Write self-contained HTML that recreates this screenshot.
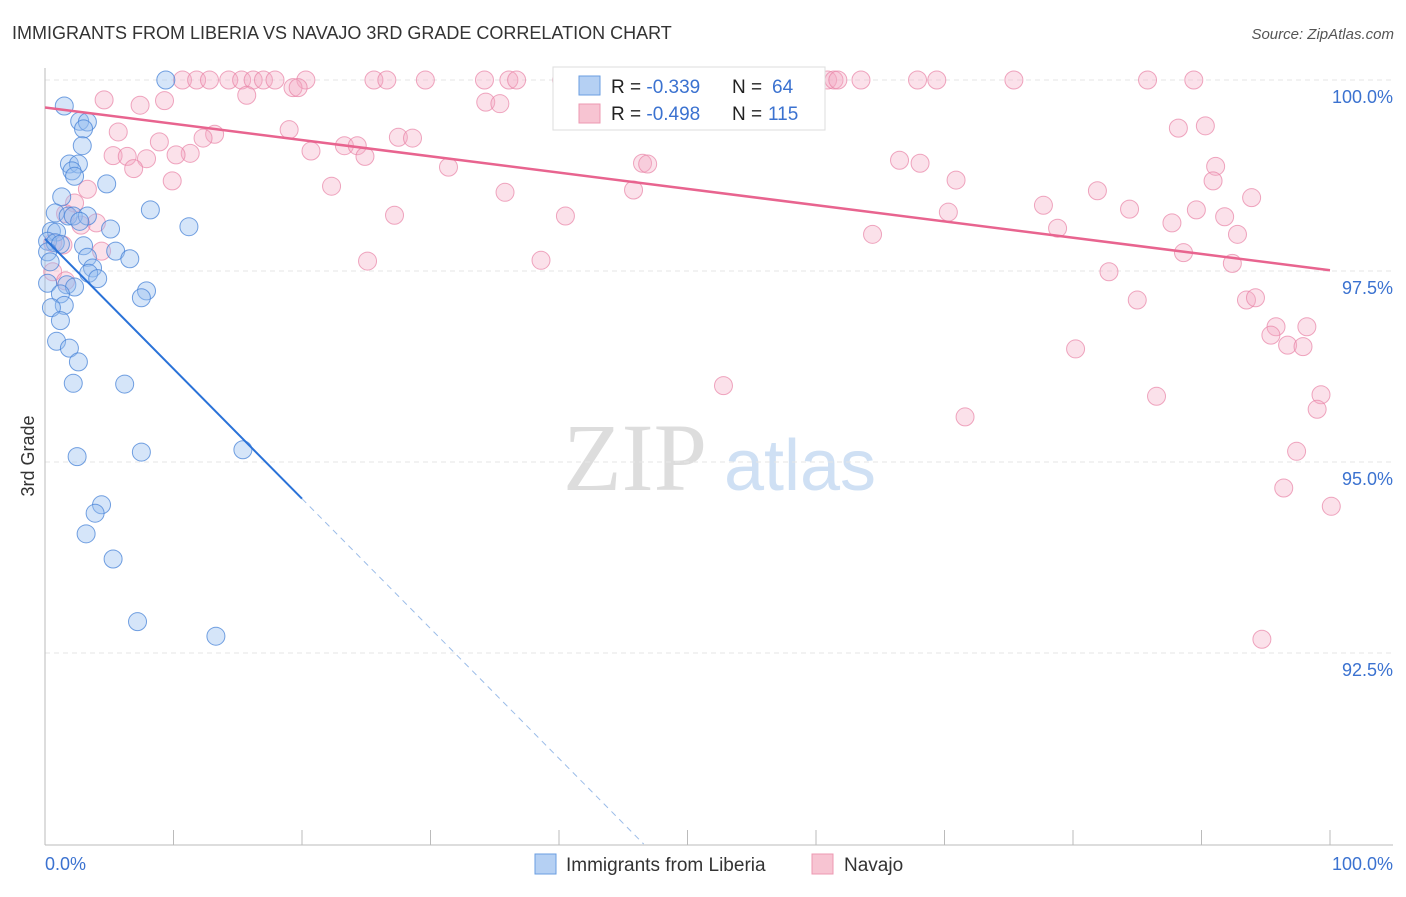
<!DOCTYPE html>
<html><head><meta charset="utf-8"><style>
body{margin:0;background:#fff;width:1406px;height:892px;overflow:hidden;font-family:"Liberation Sans",sans-serif}
</style></head><body>
<svg id="chart" width="1406" height="892" xmlns="http://www.w3.org/2000/svg">
<text x="12" y="39" font-size="18" fill="#333">IMMIGRANTS FROM LIBERIA VS NAVAJO 3RD GRADE CORRELATION CHART</text>
<text x="1394" y="39" font-size="15" fill="#555" text-anchor="end" font-style="italic">Source: ZipAtlas.com</text>
<text x="34" y="456" font-size="18" fill="#333" text-anchor="middle" transform="rotate(-90 34 456)">3rd Grade</text>
<g><text x="635" y="490" font-size="96" fill="#ddd" text-anchor="middle" font-family="Liberation Serif,serif">ZIP</text><text x="800" y="490" font-size="72" fill="#cfe0f4" text-anchor="middle">atlas</text></g>
<g id="grid"></g><g id="axes"></g><g id="pts"></g><g id="lines"></g>
<g>
<rect x="553" y="67" width="272" height="63" fill="#fff" stroke="#ddd"/>
<rect x="579" y="76" width="21" height="19" fill="#b5d0f3" stroke="#6a9ee0"/>
<rect x="579" y="104" width="21" height="19" fill="#f7c4d2" stroke="#ec98b2"/>
<text x="611" y="93" font-size="19" fill="#222">R = <tspan fill="#3b72d0">-0.339</tspan><tspan x="732">N = </tspan><tspan x="772" fill="#3b72d0">64</tspan></text>
<text x="611" y="120" font-size="19" fill="#222">R = <tspan fill="#3b72d0">-0.498</tspan><tspan x="732">N = </tspan><tspan x="768" fill="#3b72d0">115</tspan></text>
</g>
<g>
<rect x="535" y="854" width="21" height="20" fill="#b5d0f3" stroke="#6a9ee0"/>
<text x="566" y="871" font-size="19" fill="#333">Immigrants from Liberia</text>
<rect x="812" y="854" width="21" height="20" fill="#f7c4d2" stroke="#ec98b2"/>
<text x="844" y="871" font-size="19" fill="#333">Navajo</text>
</g>
</svg>
<script>
const blueX=[9.4,1.5,2.7,3.3,3.0,2.9,1.9,2.6,2.1,2.3,4.8,1.3,8.2,0.8,1.8,2.2,3.3,2.7,11.2,5.1,0.5,0.9,0.2,0.8,3.0,1.2,5.5,0.2,3.3,6.6,0.4,3.7,3.4,4.1,0.2,1.7,2.3,7.9,1.2,7.5,1.5,0.5,1.2,0.9,1.9,2.6,2.2,6.2,7.5,15.4,2.5,4.4,3.9,3.2,5.3,7.2,13.3];
const blueY=[100,99.66,99.46,99.45,99.36,99.14,98.90,98.90,98.81,98.74,98.64,98.47,98.30,98.26,98.22,98.22,98.22,98.15,98.08,98.05,98.02,98.01,97.89,97.87,97.83,97.85,97.76,97.75,97.68,97.66,97.62,97.54,97.47,97.40,97.34,97.32,97.29,97.24,97.20,97.15,97.05,97.02,96.85,96.58,96.49,96.31,96.03,96.02,95.13,95.16,95.07,94.44,94.33,94.06,93.73,92.91,92.72];
const pinkX=[10.7,11.8,12.8,14.3,15.3,16.2,17.0,17.9,20.3,25.6,26.6,29.6,34.2,36.1,36.7,40.2,46.3,52.4,52.8,60.9,61.4,61.7,63.5,67.9,69.4,75.4,85.8,89.4,
4.6,9.3,7.4,15.7,19.3,19.7,34.3,35.4,5.7,13.2,19.0,12.3,8.9,23.3,24.3,27.5,28.6,20.7,11.3,10.2,5.3,6.4,7.9,24.9,6.9,31.4,46.5,46.9,66.5,68.1,9.9,3.3,22.3,35.8,45.8,70.9,91.1,90.9,88.2,90.3,81.9,93.9,2.3,1.6,4.0,77.7,84.4,89.6,70.3,27.2,40.5,91.8,87.7,78.8,2.8,64.4,92.8,0.6,1.4,4.4,88.6,25.1,38.6,92.4,0.6,1.6,82.8,85.0,93.5,94.2,95.8,98.2,95.4,96.7,97.9,80.2,52.8,86.5,99.3,99.0,71.6,97.4,96.4,100.1,94.7];
const pinkY=[100,100,100,100,100,100,100,100,100,100,100,100,100,100,100,100,100,100,100,100,100,100,100,100,100,100,100,100,
99.74,99.73,99.67,99.80,99.90,99.90,99.71,99.69,99.32,99.29,99.35,99.24,99.19,99.14,99.14,99.25,99.24,99.07,99.04,99.02,99.01,99.00,98.97,99.00,98.84,98.86,98.91,98.90,98.95,98.91,98.68,98.57,98.61,98.53,98.56,98.69,98.87,98.68,99.37,99.40,98.55,98.46,98.39,98.25,98.13,98.36,98.31,98.30,98.27,98.23,98.22,98.21,98.13,98.06,98.10,97.98,97.98,97.87,97.84,97.76,97.74,97.63,97.64,97.60,97.49,97.37,97.49,97.12,97.12,97.15,96.77,96.77,96.66,96.53,96.51,96.48,96.0,95.86,95.88,95.69,95.59,95.14,94.66,94.42,92.68];
const yTicks=[100,97.5,95,92.5];
const yTickLabels=["100.0%","97.5%","95.0%","92.5%"];
const blueTrend=[[0,97.92],[20,94.52]];
const pinkTrend=[[0,99.64],[100,97.51]];
const NS='http://www.w3.org/2000/svg';
const sx=v=>45+v*12.85, sy=v=>80+(100-v)*76.4;
function mk(t,a,p){const e=document.createElementNS(NS,t);for(const k in a)e.setAttribute(k,a[k]);document.getElementById(p).appendChild(e);return e;}
yTicks.forEach((t,i)=>{
 const g=mk('line',{x1:45,x2:1393,y1:sy(t),y2:sy(t),stroke:'#e6e6e6','stroke-dasharray':'5,4'},'grid');
 
 
 const l=mk('text',{x:1393,y:sy(t)+23,'font-size':18,fill:'#3b72d0','text-anchor':'end'},'axes');
 l.textContent=yTickLabels[i];
 
 
});
let ax=mk('line',{x1:45,x2:45,y1:68,y2:845,stroke:'#bbb'},'axes');


ax=mk('line',{x1:45,x2:1393,y1:845,y2:845,stroke:'#bbb'},'axes');


for(let i=0;i<=10;i++){const t=mk('line',{x1:sx(i*10),x2:sx(i*10),y1:830,y2:845,stroke:'#bbb'},'axes');
 
 }
let xl=mk('text',{x:45,y:870,'font-size':18,fill:'#3b72d0'},'axes');xl.textContent='0.0%';


xl=mk('text',{x:1393,y:870,'font-size':18,fill:'#3b72d0','text-anchor':'end'},'axes');xl.textContent='100.0%';


pinkX.forEach((x,i)=>{const c=mk('circle',{cx:sx(x),cy:sy(pinkY[i]),r:9,fill:'rgba(244,170,195,0.35)',stroke:'rgba(232,130,165,0.7)','stroke-width':1},'pts');
 
 });
blueX.forEach((x,i)=>{const c=mk('circle',{cx:sx(x),cy:sy(blueY[i]),r:9,fill:'rgba(150,190,240,0.4)',stroke:'rgba(70,130,215,0.75)','stroke-width':1},'pts');
 
 });
const bs=(blueTrend[1][1]-blueTrend[0][1])/(blueTrend[1][0]-blueTrend[0][0]);
let ln=mk('line',{x1:sx(blueTrend[0][0]),y1:sy(blueTrend[0][1]),x2:sx(blueTrend[1][0]),y2:sy(blueTrend[1][1]),stroke:'#2a72d8','stroke-width':2},'lines');


const xe=blueTrend[1][0]+(90-blueTrend[1][1])/bs;
ln=mk('line',{x1:sx(blueTrend[1][0]),y1:sy(blueTrend[1][1]),x2:sx(xe),y2:sy(90),stroke:'#9bbce8','stroke-width':1,'stroke-dasharray':'6,5'},'lines');


ln=mk('line',{x1:sx(pinkTrend[0][0]),y1:sy(pinkTrend[0][1]),x2:sx(pinkTrend[1][0]),y2:sy(pinkTrend[1][1]),stroke:'#e8648f','stroke-width':2.5},'lines');


</script>
</body></html>
